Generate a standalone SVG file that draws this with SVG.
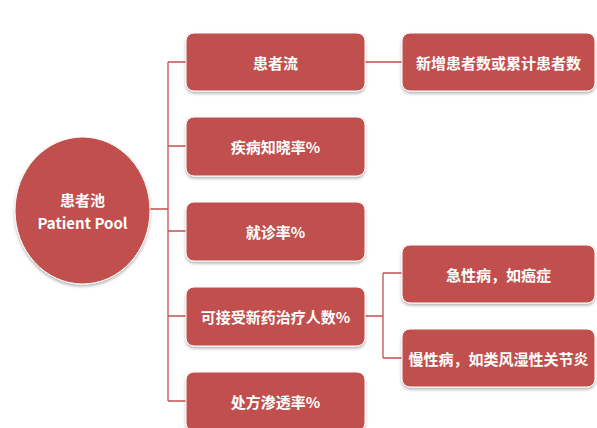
<svg xmlns="http://www.w3.org/2000/svg" width="597" height="428" viewBox="0 0 597 428">
<defs>
<filter id="sh" x="-10%" y="-10%" width="120%" height="130%">
<feDropShadow dx="0" dy="2" stdDeviation="1.5" flood-color="#000" flood-opacity="0.3"/>
</filter>
<style>
.n{fill:#C0504D;stroke:#ffffff;stroke-width:1;filter:url(#sh)}
.t{fill:#ffffff;font-family:"Noto Sans CJK SC","Liberation Sans",sans-serif;font-weight:bold;font-size:15px;text-anchor:middle;dominant-baseline:central}
.c{fill:none;stroke:#C0504D;stroke-width:1.3}
</style>
</defs>
<rect width="597" height="428" fill="#ffffff"/>
<g id="connectors">
<path class="c" d="M150,209 H168 M168,62 V401 M168,62 H186 M168,146 H186 M168,231 H186 M168,316 H186 M168,401 H186"/>
<path class="c" d="M365,62 H402"/>
<path class="c" d="M365,316 H383 M383,273 V358 M383,273 H402 M383,358 H402"/>
</g>
<g id="pool">
<ellipse class="n" cx="82.5" cy="210.5" rx="67.5" ry="73.5"/>
<text class="t" x="82.5" y="199">患者池</text>
<text class="t" x="82.5" y="222">Patient Pool</text>
</g>
<g id="flow">
<rect class="n" x="186" y="33" width="179" height="58" rx="8"/>
<text class="t" x="275.5" y="62">患者流</text>
</g>
<g id="awareness">
<rect class="n" x="186" y="117" width="179" height="59" rx="8"/>
<text class="t" x="275.5" y="146">疾病知晓率%</text>
</g>
<g id="visit">
<rect class="n" x="186" y="202" width="179" height="59" rx="8"/>
<text class="t" x="275.5" y="231">就诊率%</text>
</g>
<g id="newdrug">
<rect class="n" x="186" y="287" width="179" height="59" rx="8"/>
<text class="t" x="275.5" y="316">可接受新药治疗人数%</text>
</g>
<g id="rx">
<rect class="n" x="186" y="372" width="179" height="59" rx="8"/>
<text class="t" x="275.5" y="401">处方渗透率%</text>
</g>
<g id="newpatients">
<rect class="n" x="402" y="33" width="193" height="58" rx="8"/>
<text class="t" x="498.5" y="62">新增患者数或累计患者数</text>
</g>
<g id="acute">
<rect class="n" x="402" y="245" width="193" height="58" rx="8"/>
<text class="t" x="498.5" y="274">急性病，如癌症</text>
</g>
<g id="chronic">
<rect class="n" x="402" y="329" width="193" height="58" rx="8"/>
<text class="t" x="498.5" y="358">慢性病，如类风湿性关节炎</text>
</g>
</svg>
